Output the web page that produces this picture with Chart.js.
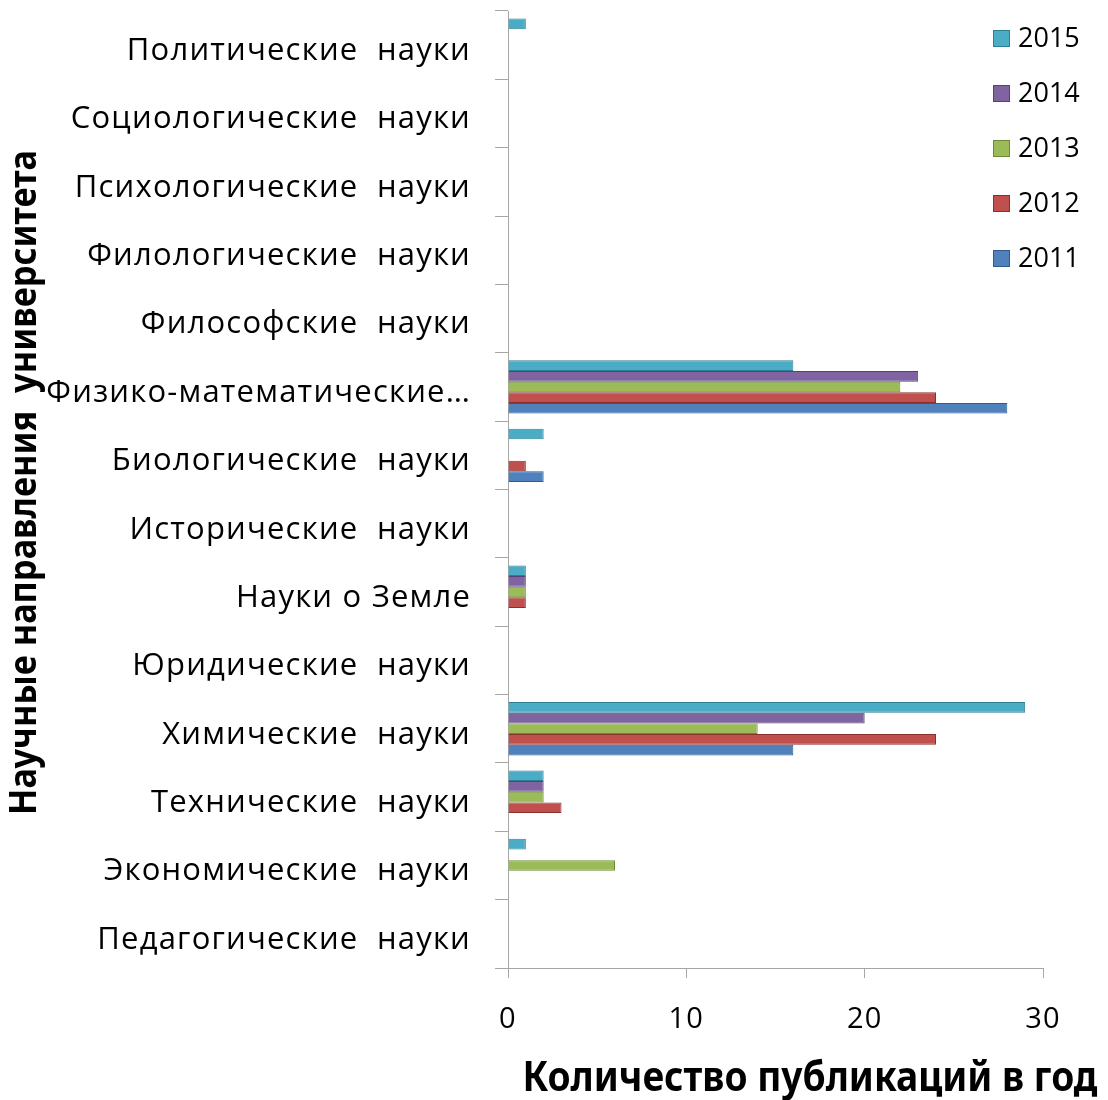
<!DOCTYPE html>
<html>
<head>
<meta charset="utf-8">
<script src="https://cdn.jsdelivr.net/npm/chart.js@4"></script>
<style>
  html, body { margin: 0; padding: 0; background: #fff; }
  #wrap { position: relative; width: 1108px; height: 1100px; }
  #legend { position: absolute; left: 993px; top: 20px; font-family: "Open Sans", sans-serif; font-size: 27px; color: #000; }
  #legend div { height: 55px; line-height: 34px; white-space: nowrap; }
  #legend span.box { display: inline-block; width: 15px; height: 15px; margin-right: 8px; vertical-align: 0px; }
</style>
</head>
<body>
<div id="wrap">
  <canvas id="chart" width="1108" height="1100"></canvas>
  <div id="legend"></div>
</div>
<script>
// Научные направления — сверху вниз, как на рисунке
const categories = [
  'Политические  науки', 'Социологические  науки', 'Психологические  науки',
  'Филологические  науки', 'Философские  науки', 'Физико-математические…',
  'Биологические  науки', 'Исторические  науки', 'Науки о Земле',
  'Юридические  науки', 'Химические  науки', 'Технические  науки',
  'Экономические  науки', 'Педагогические  науки'
];
const years = ['2015', '2014', '2013', '2012', '2011'];
const pub2015 = [1, 0, 0, 0, 0, 16, 2, 0, 1, 0, 29, 2, 1, 0];
const pub2014 = [0, 0, 0, 0, 0, 23, 0, 0, 1, 0, 20, 2, 0, 0];
const pub2013 = [0, 0, 0, 0, 0, 22, 0, 0, 1, 0, 14, 2, 6, 0];
const pub2012 = [0, 0, 0, 0, 0, 24, 1, 0, 1, 0, 24, 3, 0, 0];
const pub2011 = [0, 0, 0, 0, 0, 28, 2, 0, 0, 0, 16, 0, 0, 0];
const xTicks = [0, 10, 20, 30];
const xTitle = 'Количество публикаций в год';
const yTitle = 'Научные направления  университета';

const FONT = '"Open Sans", sans-serif';
const colors  = ['#4bacc6', '#8064a2', '#9bbb59', '#c0504d', '#4f81bd'];
const borders = ['#2f7f94', '#564277', '#6c8a37', '#8c2e2c', '#2f5a8c'];
const series  = [pub2015, pub2014, pub2013, pub2012, pub2011];

const datasets = years.map((y, i) => ({
  label: y,
  data: series[i],
  backgroundColor: colors[i],
  borderColor: borders[i],
  borderWidth: c => (c.raw ? 1 : 0),
  categoryPercentage: 0.78,
  barPercentage: 1.0
}));

// чуть разрядить текст, как в исходной картинке
const spacing = {
  id: 'spacing',
  beforeUpdate: c => { c.ctx.letterSpacing = '1.2px'; },
  beforeDraw: c => { c.ctx.letterSpacing = '1.2px'; }
};

// подписи осей: узкий жирный шрифт (через maxWidth), позиция как в оригинале
const axisTitles = {
  id: 'axisTitles',
  afterDraw(chart) {
    const ctx = chart.ctx;
    const area = chart.chartArea;
    ctx.save();
    ctx.letterSpacing = '0px';
    ctx.fillStyle = '#000';
    ctx.textAlign = 'center';
    ctx.textBaseline = 'middle';
    ctx.font = 'bold 42px "Noto Sans", sans-serif';
    ctx.fillText(xTitle, area.right - 233, 1079, 575);
    ctx.translate(25, (area.top + area.bottom) / 2 - 7);
    ctx.rotate(-Math.PI / 2);
    ctx.font = 'bold 37px "Noto Sans", sans-serif';
    ctx.fillText(yTitle, 0, 0, 665);
    ctx.restore();
  }
};

new Chart(document.getElementById('chart'), {
  type: 'bar',
  data: { labels: categories, datasets },
  plugins: [spacing, axisTitles],
  options: {
    responsive: false,
    animation: false,
    indexAxis: 'y',
    layout: { padding: { top: 11, right: 65, left: 6, bottom: 0 } },
    plugins: { legend: { display: false }, tooltip: { enabled: false } },
    scales: {
      x: {
        min: 0, max: 30,
        afterBuildTicks: s => { s.ticks = xTicks.map(v => ({ value: v })); },
        grid: { drawOnChartArea: false, drawTicks: true, tickLength: 10, color: '#a6a6a6' },
        border: { color: '#a6a6a6' },
        ticks: { font: { family: FONT, size: 29 }, color: '#000', padding: 24 },
        afterFit: s => { s.height = 132; }
      },
      y: {
        grid: { drawOnChartArea: false, drawTicks: true, tickLength: 13, color: '#a6a6a6', offset: true },
        border: { color: '#a6a6a6' },
        ticks: { font: { family: FONT, size: 31 }, color: '#000', padding: 24, autoSkip: false, labelOffset: 6 },
        afterFit: s => { s.width = 502; s.paddingTop = 0; s.paddingBottom = 0; }
      }
    }
  }
});

// легенда справа вверху, поверх области графика
const legend = document.getElementById('legend');
years.forEach((y, i) => {
  const row = document.createElement('div');
  row.innerHTML = '<span class="box" style="background:' + colors[i] + ';border:1px solid ' + borders[i] + '"></span>' + y;
  legend.appendChild(row);
});
</script>
</body>
</html>
